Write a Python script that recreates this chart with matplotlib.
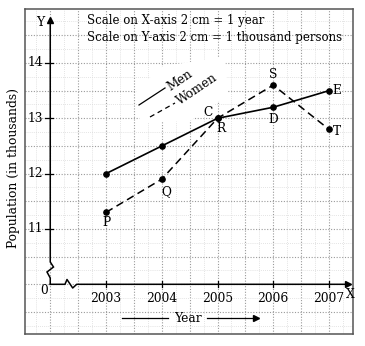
import matplotlib
matplotlib.use("Agg")
import matplotlib.pyplot as plt
from matplotlib.patches import Polygon
import numpy as np

years = [2003, 2004, 2005, 2006, 2007]
men = [12.0, 12.5, 13.0, 13.2, 13.5]
women = [11.3, 11.9, 13.0, 13.6, 12.8]
men_labels = ["", "", "C", "D", "E"]
women_labels = ["P", "Q", "R", "S", "T"]
yticks = [11, 12, 13, 14]
year_labels = ["2003", "2004", "2005", "2006", "2007"]

plt.rcParams['font.family'] = ['DejaVu Serif']
FS = 8.8

fig = plt.figure(figsize=(3.65, 3.46), dpi=100)
ax = fig.add_axes([25/365, 12/346, 327.7/365, 325.3/346])
X0, XS = 50.25, 55.75
Y0, YS = 284.3, 55.33
def PX(p):
    return 2002 + (p - X0) / XS
def PY(p):
    return 10 + (Y0 - p) / YS

ax.set_xlim(PX(25), PX(352.7))
ax.set_ylim(PY(334), PY(8.7))
ax.set_xticks([]); ax.set_yticks([])
for s in ax.spines.values():
    s.set_color('#555555'); s.set_linewidth(1.1)

# graph paper grid
for v in np.arange(2001.75, 2007.5, 0.25):
    major = abs(v * 2 - round(v * 2)) < 1e-6
    ax.axvline(v, color='#9a9a9a' if major else '#dadada', lw=0.8 if major else 0.6,
               ls=(0, (1, 1.5)), zorder=0)
for v in np.arange(9.25, 15.0, 0.25):
    major = abs(v * 2 - round(v * 2)) < 1e-6
    ax.axhline(v, color='#9a9a9a' if major else '#dadada', lw=0.8 if major else 0.6,
               ls=(0, (1, 1.5)), zorder=0)

# white area behind legend
poly = [(PX(136), PY(90)), (PX(163), PY(66)), (PX(225), PY(57)), (PX(228), PY(95)),
        (PX(190), PY(121)), (PX(140), PY(123))]
ax.add_patch(Polygon(poly, closed=True, facecolor='white', edgecolor='none', zorder=1))

# axes with breaks
yax_x = [PX(50.25), PX(50.25), PX(47), PX(53.5), PX(50.25), PX(50.25)]
yax_y = [PY(284.3), PY(278), PY(272), PY(267), PY(262), PY(22)]
ax.plot(yax_x, yax_y, color='k', lw=1.1, zorder=3, solid_joinstyle='miter')
ax.plot([PX(50.25)], [PY(20)], marker='^', color='k', ms=5, zorder=3)
xax_x = [PX(50.25), PX(65), PX(67), PX(72.7), PX(76.7), PX(347)]
xax_y = [PY(284.3), PY(284.3), PY(279.5), PY(288), PY(284.3), PY(284.3)]
ax.plot(xax_x, xax_y, color='k', lw=1.1, zorder=3)
ax.plot([PX(348)], [PY(284.3)], marker='>', color='k', ms=5, zorder=3)
ax.text(PX(40), PY(22), "Y", fontsize=FS, ha='center', va='center', zorder=4)
ax.text(PX(350), PY(295), "X", fontsize=FS, ha='center', va='center', zorder=4, clip_on=False)
ax.text(PX(44), PY(290), "0", fontsize=FS, ha='center', va='center', zorder=4)

for t in yticks:
    ax.plot([PX(45), PX(53)], [t, t], color='k', lw=0.9, zorder=3)
    ax.text(PX(43.5), t, str(t), fontsize=FS, ha='right', va='center', zorder=4)
for yr, lab in zip(years, year_labels):
    ax.plot([yr, yr], [PY(281), PY(287)], color='k', lw=0.9, zorder=3)
    ax.text(yr, PY(298), lab, fontsize=FS, ha='center', va='center', zorder=4)

# data
ax.plot(years, men, color='k', lw=1.2, marker='o', ms=3.8, zorder=5)
ax.plot(years, women, color='k', lw=1.1, dashes=(5, 3), marker='o', ms=3.8, zorder=5)

offs_w = [(0, -7.2), (3.4, -8.9), (2.7, -7.2), (0, 7.9), (5.5, -1.2)]
offs_m = [(0, 0), (0, 0), (-6.5, 4.5), (0, -8.6), (5.8, 0)]
for x, y, l, o in zip(years, women, women_labels, offs_w):
    if l:
        ax.annotate(l, (x, y), xytext=o, textcoords='offset points', fontsize=FS,
                    ha='center', va='center', zorder=6)
for x, y, l, o in zip(years, men, men_labels, offs_m):
    if l:
        ax.annotate(l, (x, y), xytext=o, textcoords='offset points', fontsize=FS,
                    ha='center', va='center', zorder=6)

# legend
ax.plot([PX(139), PX(165)], [PY(105), PY(88)], color='k', lw=0.9, zorder=5)
ax.text(PX(180), PY(80), "Men", fontsize=FS, rotation=34, ha='center', va='center',
        rotation_mode='anchor', zorder=6)
ax.plot([PX(150), PX(175)], [PY(117), PY(103)], color='k', lw=0.9, dashes=(4, 3), zorder=5)
ax.text(PX(197), PY(89), "Women", fontsize=FS, rotation=34, ha='center', va='center',
        rotation_mode='anchor', zorder=6)

# scale notes
ax.text(PX(87), PY(20), "Scale on X-axis 2 cm = 1 year", fontsize=8.5, ha='left', va='center', zorder=6)
ax.text(PX(87), PY(37), "Scale on Y-axis 2 cm = 1 thousand persons", fontsize=8.5, ha='left',
        va='center', zorder=6)

# year arrow
ax.text(PX(188), PY(318), "Year", fontsize=FS, ha='center', va='center', zorder=6)
ax.plot([PX(122), PX(168)], [PY(318), PY(318)], color='k', lw=0.9, zorder=5)
ax.plot([PX(207), PX(254)], [PY(318), PY(318)], color='k', lw=0.9, zorder=5)
ax.plot([PX(256)], [PY(318)], marker='>', color='k', ms=5, zorder=5)

fig.text(14/365, 1 - 168/346, "Population (in thousands)", fontsize=FS, rotation=90,
         ha='center', va='center')

fig.savefig("out.png", dpi=100)
